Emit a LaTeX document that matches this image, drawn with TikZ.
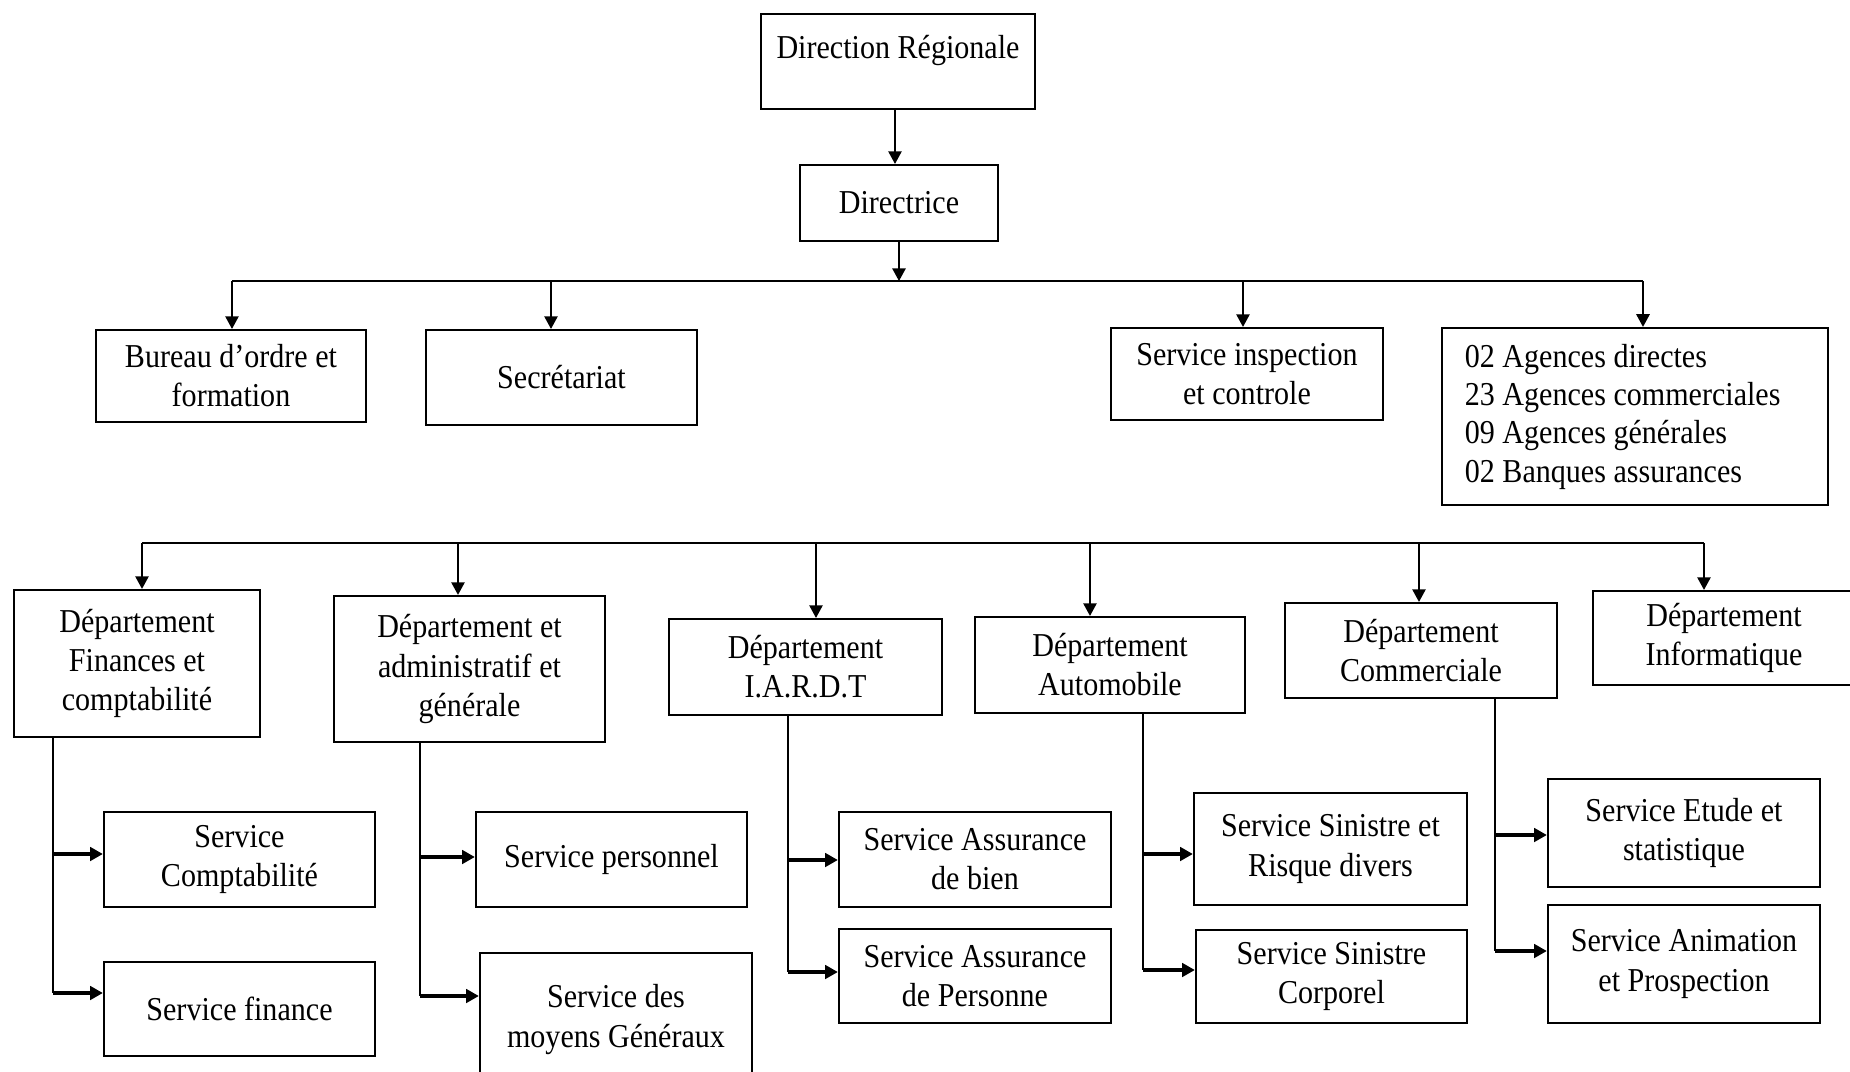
\documentclass[tikz,border=0pt]{standalone}
\usepackage{fontspec}
\setmainfont{Liberation Serif}[FakeStretch=0.9]
\usetikzlibrary{arrows.meta}

\begin{document}
\begin{tikzpicture}[x=0.01cm,y=-0.01cm,
    boite/.style={draw,line width=0.6pt,inner sep=0pt,align=center,
      font=\fontsize{9.5}{11.1}\selectfont},
    fleche/.style={-{Triangle[length=3.6pt,width=3.8pt]},line width=0.45pt},
    branche/.style={-{Triangle[length=3.6pt,width=3.8pt]},line width=0.9pt},
    trait/.style={line width=0.45pt}]
  \clip (0,0) rectangle (1850,1072);
  \fill[white] (0,0) rectangle (1850,1072);

  % Direction
  \node[boite,minimum width=2.74cm,text height=0.44cm,text depth=0.51cm] (dr) at (898,61.5) {Direction Régionale};
  \node[boite,minimum width=1.98cm,minimum height=0.76cm] (dtr) at (899,203) {Directrice};
  \draw[fleche] (dr.south -| 895,0) -- (dtr.north -| 895,0);

  % Premier niveau
  \coordinate (bA) at (232,281);
  \coordinate (bB) at (551,281);
  \coordinate (bC) at (1243,281);
  \coordinate (bD) at (1643,281);
  \draw[trait] (bA) -- (bD);
  \draw[fleche] (dtr.south) -- (dtr.south |- bA);

  \node[boite,minimum width=2.70cm,minimum height=0.92cm] (bur) at (231,376) {Bureau d’ordre et\\formation};
  \node[boite,minimum width=2.71cm,minimum height=0.95cm] (sec) at (561.5,377.5) {Secrétariat};
  \node[boite,minimum width=2.72cm,minimum height=0.92cm] (insp) at (1247,374) {Service inspection\\et controle};
  \node[boite,minimum width=3.86cm,minimum height=1.77cm,align=left,font=\fontsize{9.5}{10.9}\selectfont] (ag) at (1635,416.5)
    {\makebox[3.4cm][l]{02 Agences directes}\\23 Agences commerciales\\09 Agences générales\\02 Banques assurances};

  \draw[fleche] (bA) -- (bA |- bur.north);
  \draw[fleche] (bB) -- (bB |- sec.north);
  \draw[fleche] (bC) -- (bC |- insp.north);
  \draw[fleche] (bD) -- (bD |- ag.north);

  % Departements
  \coordinate (dA) at (142,543);
  \coordinate (dB) at (458,543);
  \coordinate (dC) at (816,543);
  \coordinate (dD) at (1090,543);
  \coordinate (dE) at (1419,543);
  \coordinate (dF) at (1704,543);
  \draw[trait] (dA) -- (dF);

  \node[boite,minimum width=2.46cm,minimum height=1.47cm] (dfin) at (137,663.5) {Département\\Finances et\\comptabilité};
  \node[boite,minimum width=2.71cm,minimum height=1.46cm] (dadm) at (469.5,669) {Département et\\administratif et\\générale};
  \node[boite,minimum width=2.73cm,minimum height=0.96cm] (diard) at (805.5,667) {Département\\I.A.R.D.T};
  \node[boite,minimum width=2.70cm,minimum height=0.96cm] (dauto) at (1110,665) {Département\\Automobile};
  \node[boite,minimum width=2.72cm,minimum height=0.95cm] (dcom) at (1421,650.5) {Département\\Commerciale};
  \node[boite,minimum width=2.62cm,minimum height=0.94cm] (dinf) at (1724,638) {Département\\Informatique};

  \draw[fleche] (dA) -- (dA |- dfin.north);
  \draw[fleche] (dB) -- (dB |- dadm.north);
  \draw[fleche] (dC) -- (dC |- diard.north);
  \draw[fleche] (dD) -- (dD |- dauto.north);
  \draw[fleche] (dE) -- (dE |- dcom.north);
  \draw[fleche] (dF) -- (dF |- dinf.north);

  % Services
  \node[boite,minimum width=2.71cm,minimum height=0.95cm] (scpt) at (239.5,859.5) {Service\\Comptabilité};
  \node[boite,minimum width=2.71cm,minimum height=0.94cm] (sfin) at (239.5,1009) {Service finance};
  \node[boite,minimum width=2.71cm,minimum height=0.95cm] (spers) at (611.5,859.5) {Service personnel};
  \node[boite,minimum width=2.72cm,text height=0.94cm,text depth=0.40cm] (smoy) at (616,1020) {Service des\\moyens Généraux};
  \node[boite,minimum width=2.72cm,minimum height=0.95cm] (sab) at (975,859.5) {Service Assurance\\de bien};
  \node[boite,minimum width=2.72cm,minimum height=0.94cm] (sap) at (975,976) {Service Assurance\\de Personne};
  \node[boite,minimum width=2.73cm,minimum height=1.12cm] (ssr) at (1330.5,849) {Service Sinistre et\\Risque divers};
  \node[boite,minimum width=2.71cm,minimum height=0.93cm] (ssc) at (1331.5,976.5) {Service Sinistre\\Corporel};
  \node[boite,minimum width=2.72cm,minimum height=1.08cm] (set) at (1684,833) {Service Etude et\\statistique};
  \node[boite,minimum width=2.72cm,minimum height=1.18cm] (sanim) at (1684,964) {Service Animation\\et Prospection};

  % Liaisons
  \coordinate (fA) at (53,854);    \coordinate (fB) at (53,993);
  \coordinate (aA) at (420,857);   \coordinate (aB) at (420,996);
  \coordinate (iA) at (788,860);   \coordinate (iB) at (788,972);
  \coordinate (uA) at (1143,854);  \coordinate (uB) at (1143,970);
  \coordinate (cA) at (1495,835);  \coordinate (cB) at (1495,951);

  \draw[trait] (dfin.south -| fB) -- (fB);
  \draw[trait] (dadm.south -| aB) -- (aB);
  \draw[trait] (diard.south -| iB) -- (iB);
  \draw[trait] (dauto.south -| uB) -- (uB);
  \draw[trait] (dcom.south -| cB) -- (cB);

  \draw[branche] (fA) -- (fA -| scpt.west);
  \draw[branche] (fB) -- (fB -| sfin.west);
  \draw[branche] (aA) -- (aA -| spers.west);
  \draw[branche] (aB) -- (aB -| smoy.west);
  \draw[branche] (iA) -- (iA -| sab.west);
  \draw[branche] (iB) -- (iB -| sap.west);
  \draw[branche] (uA) -- (uA -| ssr.west);
  \draw[branche] (uB) -- (uB -| ssc.west);
  \draw[branche] (cA) -- (cA -| set.west);
  \draw[branche] (cB) -- (cB -| sanim.west);
\end{tikzpicture}
\end{document}
